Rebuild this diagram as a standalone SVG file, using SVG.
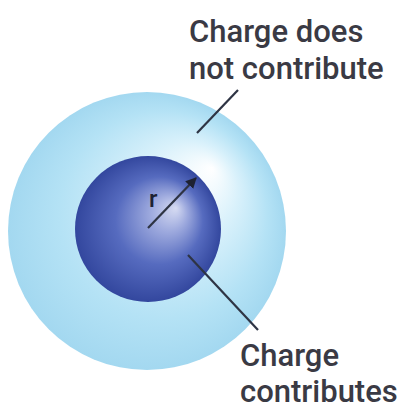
<svg xmlns="http://www.w3.org/2000/svg" width="401" height="409" viewBox="0 0 401 409">
<style>
.lbl{font-family:Roboto,"Liberation Sans",Arial,sans-serif;font-weight:500;font-size:31px;fill:#3a3a44}
.lead{stroke:#2e3444;stroke-width:2.2;fill:none}
</style>
<defs>
<radialGradient id="outerG" cx="147" cy="231" r="139" fx="212" fy="168" gradientUnits="userSpaceOnUse">
<stop offset="0" stop-color="#ffffff"/>
<stop offset="0.35" stop-color="#d9f1fb"/>
<stop offset="0.75" stop-color="#b4e2f5"/>
<stop offset="1" stop-color="#a3d8f0"/>
</radialGradient>
<radialGradient id="innerG" cx="148" cy="229" r="73" fx="176" fy="208" gradientUnits="userSpaceOnUse">
<stop offset="0" stop-color="#d6dbf2"/>
<stop offset="0.25" stop-color="#9eaade"/>
<stop offset="0.6" stop-color="#566bbf"/>
<stop offset="1" stop-color="#33479e"/>
</radialGradient>
<marker id="ah" viewBox="0 0 10 10" refX="9" refY="5" markerWidth="5" markerHeight="5" orient="auto" markerUnits="strokeWidth">
<path d="M0,0 L10,5 L0,10 z" fill="#1e2233"/>
</marker>
</defs>
<g id="outer-sphere">
<circle cx="147" cy="231" r="139" fill="url(#outerG)"/>
</g>
<g id="inner-sphere">
<circle cx="148" cy="229" r="73" fill="url(#innerG)"/>
</g>
<g id="connectors">
<line class="lead" x1="148" y1="228" x2="196" y2="178" stroke="#1e2233" marker-end="url(#ah)"/>
<line class="lead" x1="197" y1="133" x2="238" y2="90"/>
<line class="lead" x1="188" y1="255" x2="258" y2="330"/>
</g>
<g id="label-r">
<text x="149" y="207" style="font-family:Roboto,'Liberation Sans',Arial,sans-serif;font-weight:500;font-size:24px;fill:#1e2233">r</text>
</g>
<g id="label-outer">
<text class="lbl" x="189" y="42">Charge does</text>
<text class="lbl" x="189" y="79">not contribute</text>
</g>
<g id="label-inner">
<text class="lbl" x="240" y="366">Charge</text>
<text class="lbl" x="240" y="402">contributes</text>
</g>
</svg>
